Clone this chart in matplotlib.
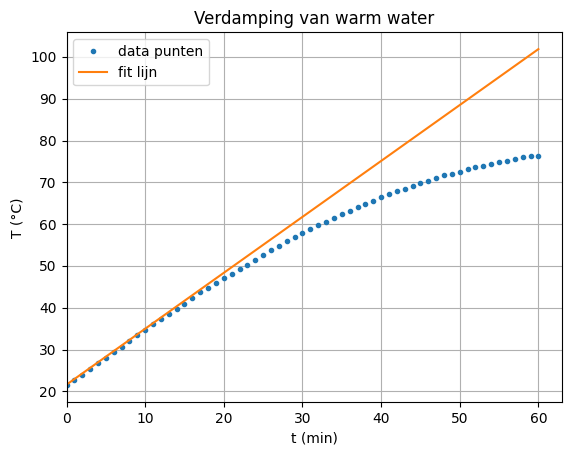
import numpy as np
import matplotlib
matplotlib.use("Agg")
import matplotlib.pyplot as plt

t = list(range(61))
T = [21.4, 22.7, 24.0, 25.4, 26.7, 27.9, 29.4, 30.7, 32.1, 33.4,
     34.6, 36.0, 37.2, 38.4, 39.8, 41.0, 42.4, 43.7, 44.8, 45.9,
     47.0, 48.1, 49.3, 50.2, 51.4, 52.6, 53.8, 54.8, 56.0, 56.9,
     57.9, 58.8, 59.8, 60.6, 61.5, 62.4, 63.1, 64.1, 64.9, 65.6,
     66.4, 67.1, 67.9, 68.4, 69.1, 69.9, 70.4, 71.1, 71.7, 72.1,
     72.6, 73.1, 73.6, 73.9, 74.5, 74.8, 75.2, 75.5, 76.0, 76.2, 76.4]
fit_slope = 1.338
fit_intercept = 21.6

fig = plt.figure(figsize=(5.71, 4.55), dpi=100)
ax = fig.add_axes([0.1165, 0.1158, 0.9842 - 0.1165, 0.929 - 0.1158])
ax.plot(t, T, '.', label='data punten')
tt = np.array(t)
ax.plot(tt, fit_slope * tt + fit_intercept, '-', label='fit lijn')
ax.set_xlim(left=0)
ax.set_title('Verdamping van warm water')
ax.set_xlabel('t (min)')
ax.set_ylabel('T (°C)')
ax.grid(True)
ax.legend(loc='upper left')
fig.savefig('out.png', dpi=100)
